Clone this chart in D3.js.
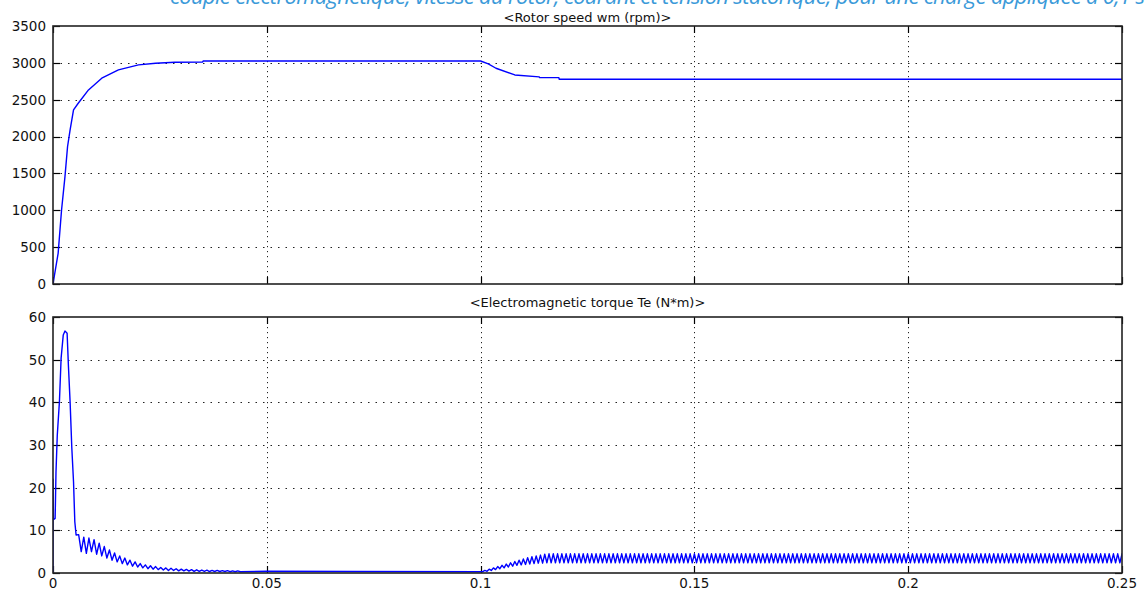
<!DOCTYPE html>
<html>
<head>
<meta charset="utf-8">
<script src="https://cdn.jsdelivr.net/npm/d3@7"></script>
<style>
	html, body { margin: 0; padding: 0; background: #fff; }
	svg { display: block; }
	.tick-label { font-family: "DejaVu Sans", sans-serif; font-size: 13.5px; fill: #111; }
	.panel-title { font-family: "DejaVu Sans", sans-serif; font-size: 13px; fill: #111; }
</style>
</head>
<body>
<svg id="chart" width="1145" height="593"></svg>
<script>
// === Data ===

const timeTicks = [0, 0.05, 0.1, 0.15, 0.2, 0.25];
const timeTickLabels = ['0', '0.05', '0.1', '0.15', '0.2', '0.25'];
const speedTicks = [0, 500, 1000, 1500, 2000, 2500, 3000, 3500];
const torqueTicks = [0, 10, 20, 30, 40, 50, 60];

const speedTitle = '<Rotor speed wm (rpm)>';
const torqueTitle = '<Electromagnetic torque Te (N*m)>';
const headerText = 'couple électromagnétique, vitesse du rotor, courant et tension statorique, pour une charge appliquée à 0,1 s';

// rotor speed (rpm)
const speedTime  = [0, 0.0012, 0.002, 0.0028, 0.0034, 0.004, 0.0048, 0.0059, 0.0083, 0.0114, 0.0153, 0.02, 0.024, 0.0285, 0.035, 0.0351, 0.1, 0.1018, 0.1036, 0.108, 0.1137, 0.1138, 0.1183, 0.1184, 0.25];
const speedValue = [0, 416, 1004, 1456, 1862, 2090, 2361, 2452, 2633, 2792, 2905, 2972, 2995, 3009, 3012, 3025, 3025, 2985, 2927, 2836, 2810, 2800, 2800, 2778, 2778];

// torque start-up transient (N*m)
const torqueTime  = [0, 0.00002, 0.0001, 0.0005, 0.0007, 0.001, 0.0015, 0.0019, 0.0024, 0.0028, 0.0033, 0.0036, 0.004, 0.0044, 0.0048, 0.0051, 0.0054];
const torqueValue = [0, 22, 12.5, 12.8, 23.7, 32.3, 40.1, 50.4, 55.8, 56.7, 56.2, 48.7, 40.1, 29.3, 21.4, 12, 8.9];

// decaying ripple after start-up: alternating peak / trough
const decayStart = 0.006;
const decayStep = 0.0006;
const decayRipple = [
	9.0, 5.0, 8.4, 4.6, 8.2, 5.0, 7.8, 4.4, 7.0, 4.0, 6.2, 3.5, 5.4, 3.0, 4.7, 2.6,
	4.0, 2.2, 3.5, 1.9, 3.0, 1.6, 2.6, 1.4, 2.2, 1.2, 1.9, 1.0, 1.7, 0.9, 1.5, 0.8,
	1.3, 0.7, 1.2, 0.6, 1.1, 0.6, 1.0, 0.5, 0.9, 0.5, 0.85, 0.45, 0.8, 0.4, 0.75, 0.4,
	0.7, 0.4, 0.65, 0.35, 0.6, 0.35, 0.6, 0.35, 0.55, 0.35, 0.55, 0.3, 0.5, 0.3, 0.5, 0.3
];

// settled no-load torque until the load step
const idleTime  = [0.05, 0.07, 0.1];
const idleValue = [0.4, 0.35, 0.3];

// ripple after the load step at 0.1 s: alternating peak / trough
const loadStart = 0.1;
const loadStep = 0.0005;
const loadRipple = [
	0.3, 0.3, 0.6, 0.4, 0.9, 0.6, 1.2, 0.8, 1.5, 1.0, 1.8, 1.2, 2.1, 1.4, 2.4, 1.6,
	2.7, 1.8, 3.0, 1.9, 3.3, 2.0, 3.6, 2.1, 3.8, 2.2, 4.0, 2.3, 4.2, 2.3, 4.4, 2.4,
	4.5, 2.4, 4.5, 2.4, 4.5, 2.4, 4.5, 2.4, 4.5, 2.4, 4.5, 2.4, 4.5, 2.4, 4.5, 2.4,
	4.5, 2.4, 4.5, 2.4, 4.5, 2.4, 4.5, 2.4, 4.5, 2.4, 4.5, 2.4, 4.5, 2.4, 4.5, 2.4,
	4.5, 2.4, 4.5, 2.4, 4.5, 2.4, 4.5, 2.4, 4.5, 2.4, 4.5, 2.4, 4.5, 2.4, 4.5, 2.4,
	4.5, 2.4, 4.5, 2.4, 4.5, 2.4, 4.5, 2.4, 4.5, 2.4, 4.5, 2.4, 4.5, 2.4, 4.5, 2.4,
	4.5, 2.4, 4.5, 2.4, 4.5, 2.4, 4.5, 2.4, 4.5, 2.4, 4.5, 2.4, 4.5, 2.4, 4.5, 2.4,
	4.5, 2.4, 4.5, 2.4, 4.5, 2.4, 4.5, 2.4, 4.5, 2.4, 4.5, 2.4, 4.5, 2.4, 4.5, 2.4,
	4.5, 2.4, 4.5, 2.4, 4.5, 2.4, 4.5, 2.4, 4.5, 2.4, 4.5, 2.4, 4.5, 2.4, 4.5, 2.4,
	4.5, 2.4, 4.5, 2.4, 4.5, 2.4, 4.5, 2.4, 4.5, 2.4, 4.5, 2.4, 4.5, 2.4, 4.5, 2.4,
	4.5, 2.4, 4.5, 2.4, 4.5, 2.4, 4.5, 2.4, 4.5, 2.4, 4.5, 2.4, 4.5, 2.4, 4.5, 2.4,
	4.5, 2.4, 4.5, 2.4, 4.5, 2.4, 4.5, 2.4, 4.5, 2.4, 4.5, 2.4, 4.5, 2.4, 4.5, 2.4,
	4.5, 2.4, 4.5, 2.4, 4.5, 2.4, 4.5, 2.4, 4.5, 2.4, 4.5, 2.4, 4.5, 2.4, 4.5, 2.4,
	4.5, 2.4, 4.5, 2.4, 4.5, 2.4, 4.5, 2.4, 4.5, 2.4, 4.5, 2.4, 4.5, 2.4, 4.5, 2.4,
	4.5, 2.4, 4.5, 2.4, 4.5, 2.4, 4.5, 2.4, 4.5, 2.4, 4.5, 2.4, 4.5, 2.4, 4.5, 2.4,
	4.5, 2.4, 4.5, 2.4, 4.5, 2.4, 4.5, 2.4, 4.5, 2.4, 4.5, 2.4, 4.5, 2.4, 4.5, 2.4,
	4.5, 2.4, 4.5, 2.4, 4.5, 2.4, 4.5, 2.4, 4.5, 2.4, 4.5, 2.4, 4.5, 2.4, 4.5, 2.4,
	4.5, 2.4, 4.5, 2.4, 4.5, 2.4, 4.5, 2.4, 4.5, 2.4, 4.5, 2.4, 4.5, 2.4, 4.5, 2.4,
	4.5, 2.4, 4.5, 2.4, 4.5, 2.4, 4.5, 2.4, 4.5, 2.4, 4.5, 2.4, 4.5, 2.4, 4.5, 2.4
];

// === Layout ===

const svg = d3.select('#chart');
const left = 53, right = 1122;
const panels = [
	{ top: 26, bottom: 284, domain: [0, 3500], ticks: speedTicks, title: speedTitle, titleY: 21.5, xLabels: false },
	{ top: 317, bottom: 573, domain: [0, 60], ticks: torqueTicks, title: torqueTitle, titleY: 307, xLabels: true }
];

const x = d3.scaleLinear().domain([0, 0.25]).range([left, right]);

// cut-off caption line above the figure
svg.append('text')
	.attr('x', 170).attr('y', 4)
	.style('font-family', '"Open Sans", sans-serif')
	.style('font-style', 'italic')
	.style('font-size', '22px')
	.style('fill', '#3b9ad9')
	.attr('textLength', 975)
	.text(headerText);

function buildSeries(times, values) {
	return times.map((t, i) => [t, values[i]]);
}
function rippleSeries(start, step, values) {
	return values.map((v, i) => [start + i * step, v]);
}

const speedData = buildSeries(speedTime, speedValue);
const torqueData = buildSeries(torqueTime, torqueValue)
	.concat(rippleSeries(decayStart, decayStep, decayRipple))
	.concat(buildSeries(idleTime, idleValue))
	.concat(rippleSeries(loadStart, loadStep, loadRipple));

panels.forEach((p, idx) => {
	const y = d3.scaleLinear().domain(p.domain).range([p.bottom, p.top]);
	const g = svg.append('g');

	// dotted grid
	g.selectAll('.hgrid').data(p.ticks.slice(1, -1)).join('line')
		.attr('x1', left).attr('x2', right)
		.attr('y1', d => Math.round(y(d)) + 0.5).attr('y2', d => Math.round(y(d)) + 0.5)
		.style('stroke', '#222').style('stroke-width', 1)
		.style('stroke-dasharray', '1.5,6');
	g.selectAll('.vgrid').data(timeTicks.slice(1, -1)).join('line')
		.attr('x1', d => Math.round(x(d)) + 0.5).attr('x2', d => Math.round(x(d)) + 0.5)
		.attr('y1', p.top).attr('y2', p.bottom)
		.style('stroke', '#222').style('stroke-width', 1)
		.style('stroke-dasharray', '1.2,3.8');

	// inward ticks on all four sides
	const tickLen = 7;
	p.ticks.forEach(d => {
		const yy = Math.round(y(d)) + 0.5;
		g.append('line').attr('x1', left).attr('x2', left + tickLen).attr('y1', yy).attr('y2', yy)
			.style('stroke', '#000').style('stroke-width', 1.2);
		g.append('line').attr('x1', right - tickLen).attr('x2', right).attr('y1', yy).attr('y2', yy)
			.style('stroke', '#000').style('stroke-width', 1.2);
	});
	timeTicks.forEach(d => {
		const xx = Math.round(x(d)) + 0.5;
		g.append('line').attr('x1', xx).attr('x2', xx).attr('y1', p.top).attr('y2', p.top + tickLen)
			.style('stroke', '#000').style('stroke-width', 1.2);
		g.append('line').attr('x1', xx).attr('x2', xx).attr('y1', p.bottom - tickLen).attr('y2', p.bottom)
			.style('stroke', '#000').style('stroke-width', 1.2);
	});

	// y tick labels
	g.selectAll('.ylab').data(p.ticks).join('text')
		.attr('class', 'tick-label')
		.attr('x', 46).attr('y', d => y(d))
		.attr('dy', '0.36em')
		.attr('text-anchor', 'end')
		.text(d => d);

	// x tick labels (bottom panel only)
	if (p.xLabels) {
		g.selectAll('.xlab').data(timeTicks).join('text')
			.attr('class', 'tick-label')
			.attr('x', d => x(d)).attr('y', 588)
			.attr('text-anchor', 'middle')
			.text((d, i) => timeTickLabels[i]);
	}

	// title
	g.append('text').attr('class', 'panel-title')
		.attr('x', (left + right) / 2).attr('y', p.titleY)
		.attr('text-anchor', 'middle')
		.text(p.title);

	// data line
	const clipId = `clip-${idx}`;
	svg.append('clipPath').attr('id', clipId).append('rect')
		.attr('x', left).attr('y', p.top - 1).attr('width', right - left).attr('height', p.bottom - p.top + 2);
	const data = idx === 0 ? speedData : torqueData;
	const line = d3.line().x(d => x(d[0])).y(d => y(d[1]));
	g.append('path').datum(data)
		.attr('clip-path', `url(#${clipId})`)
		.attr('d', line)
		.style('fill', 'none')
		.style('stroke', '#0000ff')
		.style('stroke-width', 1.4)
		.style('stroke-linejoin', 'round');

	// frame
	g.append('rect')
		.attr('x', left).attr('y', p.top)
		.attr('width', right - left).attr('height', p.bottom - p.top)
		.style('fill', 'none').style('stroke', '#222').style('stroke-width', 1.6);
});
</script>
</body>
</html>
